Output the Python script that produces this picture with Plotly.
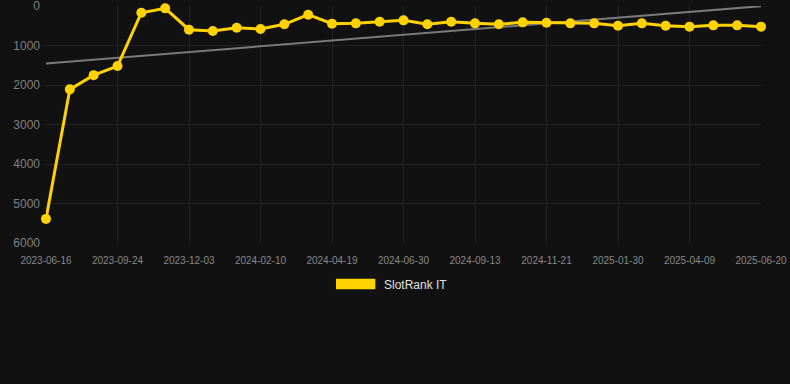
import numpy as np
import plotly.graph_objects as go

dates = [
    "2023-06-16", "2023-07-19", "2023-08-22", "2023-09-24", "2023-10-17", "2023-11-10",
    "2023-12-03", "2023-12-26", "2024-01-18", "2024-02-10", "2024-03-04", "2024-03-27",
    "2024-04-19", "2024-05-13", "2024-06-06", "2024-06-30", "2024-07-25", "2024-08-19",
    "2024-09-13", "2024-10-06", "2024-10-29", "2024-11-21", "2024-12-14", "2025-01-06",
    "2025-01-30", "2025-02-22", "2025-03-17", "2025-04-09", "2025-05-03", "2025-05-27",
    "2025-06-20",
]
rank_values = [
    5390, 2110, 1750, 1520, 170, 60, 600, 633, 549, 582, 464, 220, 447, 439, 397,
    363, 464, 397, 439, 464, 414, 422, 439, 439, 498, 439, 498, 523, 490, 490, 523,
]
y_ticks = [0, 1000, 2000, 3000, 4000, 5000, 6000]
x_tick_labels = dates[::3]
series_name = "SlotRank IT"

# linear trend line through the series
idx = np.arange(len(rank_values))
slope, intercept = np.polyfit(idx, rank_values, 1)
trend = slope * idx + intercept

fig = go.Figure()
fig.add_trace(go.Scatter(
    x=dates, y=trend, mode="lines",
    line=dict(color="#7a7a7a", width=2),
    showlegend=False, hoverinfo="skip",
))
fig.add_trace(go.Scatter(
    x=dates, y=rank_values, mode="lines+markers", name=series_name,
    line=dict(color="#FFD200", width=3),
    marker=dict(color="#FFD200", size=10),
    cliponaxis=False, showlegend=False,
))

# legend drawn as shape + text
fig.add_shape(type="rect", xref="paper", yref="paper",
              x0=0.4056, x1=0.4606, y0=-0.1505, y1=-0.1955,
              fillcolor="#FFD200", line=dict(width=0))
fig.add_annotation(text=series_name, xref="paper", yref="paper",
                   x=0.470, y=-0.1772, xanchor="left", yanchor="middle",
                   showarrow=False, font=dict(size=12, color="#e0e0e0"))

fig.update_layout(
    width=790, height=384,
    margin=dict(l=46, r=29, t=6, b=141),
    paper_bgcolor="#111111", plot_bgcolor="#111111",
    font=dict(family="Liberation Sans, Arial, sans-serif", color="#888888"),
    showlegend=False,
)
fig.update_xaxes(
    type="category", range=[0, len(dates) - 1],
    tickmode="array", tickvals=x_tick_labels, ticktext=x_tick_labels,
    showgrid=True, gridcolor="#222222", gridwidth=1,
    zeroline=False, showline=False, ticks="",
    tickfont=dict(size=10, color="#888888"), tickangle=0,
    ticklabelstandoff=10, ticklabeloverflow="allow", automargin=False,
)
fig.update_yaxes(
    range=[6000, 0], tickvals=y_ticks,
    showgrid=True, gridcolor="#222222", gridwidth=1,
    zeroline=False, showline=False, ticks="",
    tickfont=dict(size=12, color="#808080"), ticklabelstandoff=5,
    ticklabeloverflow="allow", automargin=False,
)

fig.write_html(
    "out.html",
    config={"displayModeBar": False},
    post_script="document.body.style.margin='0';document.body.style.background='#111111';",
)
